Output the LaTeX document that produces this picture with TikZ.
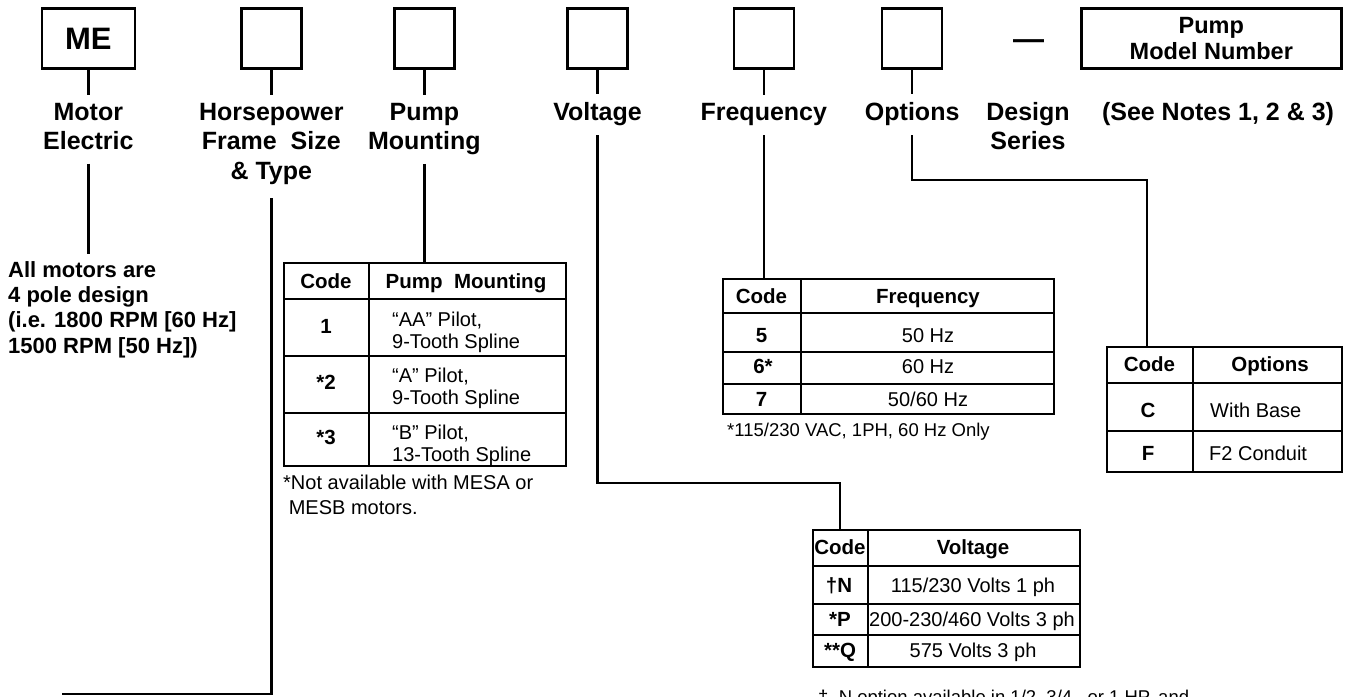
\documentclass[tikz,border=0pt]{standalone}
\usepackage{fontspec}
\setmainfont{Liberation Sans}

\tikzset{
    codebox/.style={draw, line width=2.5pt, minimum width=60pt, minimum height=60pt, inner sep=0pt, outer sep=0pt},
    lab/.style={font=\bfseries\fontsize{25}{29.5}\selectfont, align=center, inner sep=0pt, outer sep=0pt, anchor=base},
    conn/.style={line width=2.5pt},
    tabframe/.style={draw, line width=2.2pt, inner sep=0pt, outer sep=0pt, anchor=north west},
    tabline/.style={line width=2.2pt},
    hd/.style={font=\bfseries\fontsize{20.5}{22}\selectfont, inner sep=0pt, anchor=base},
    celltxt/.style={font=\fontsize{20}{22}\selectfont, inner sep=0pt, anchor=base},
    celltwo/.style={font=\fontsize{20}{22}\selectfont, inner sep=0pt, anchor=north west, align=left},
    fnote/.style={font=\fontsize{18.5}{24}\selectfont, inner sep=0pt, align=left},
}

\begin{document}
\begin{tikzpicture}[x=1pt, y=-1pt]
    \useasboundingbox (0,0) rectangle (1348,696);

    % code boxes along the top
    \node[codebox, minimum width=93pt, font=\bfseries\fontsize{31}{31}\selectfont] (me) at (88.3,38.7) {ME};
    \node[codebox] (hpbox) at (271.3,38.7) {};
    \node[codebox] (pmbox) at (424.3,38.7) {};
    \node[codebox] (voltbox) at (597.5,38.7) {};
    \node[codebox] (fqbox) at (763.8,38.7) {};
    \node[codebox] (optbox) at (912.2,38.7) {};
    \node[font=\bfseries\fontsize{31}{31}\selectfont, inner sep=0pt] (dash) at (1028.5,44.5) {—};
    \node[codebox, minimum width=260pt, align=center, font=\bfseries\fontsize{23.5}{26}\selectfont] (modelbox) at (1211.3,38.7) {Pump\\Model Number};

    % labels (anchored at the baseline of their last line)
    \node[lab] (motor) at (88.3,149.5) {Motor\\Electric};
    \node[lab] (hp) at (271.3,179) {Horsepower\\Frame\ \ Size\\\&\ Type};
    \node[lab] (pm) at (424.3,149.5) {Pump\\Mounting};
    \node[lab] (volt) at (597.5,120) {Voltage};
    \node[lab] (freq) at (763.8,120) {Frequency};
    \node[lab] (opt) at (912.2,120) {Options};
    \node[lab] (design) at (1028,149.5) {Design\\Series};
    \node[lab] (notes) at (1218,120) {(See Notes 1, 2 \& 3)};

    \draw[conn, shorten >=8pt] (me.south) -- (motor.north);
    \draw[conn, shorten >=8pt] (hpbox.south) -- (hp.north);
    \draw[conn, shorten >=8pt] (pmbox.south) -- (pm.north);
    \draw[conn, shorten >=8pt] (voltbox.south) -- (volt.north);
    \draw[conn, shorten >=8pt] (fqbox.south) -- (freq.north);
    \draw[conn, shorten >=8pt] (optbox.south) -- (opt.north);

    % motor note
    \node[font=\bfseries\fontsize{22}{25.3}\selectfont, align=left, inner sep=0pt, anchor=north west] (motnote) at (8,261)
        {All motors are\\4 pole design\\(i.e. 1800 RPM [60 Hz]\\1500 RPM [50 Hz])};
    \draw[conn, shorten <=14pt, shorten >=7pt] (motor.south) -- (motor.south |- motnote.north);

    % horsepower lead
    \coordinate (hpend) at (62,694);
    \draw[conn, shorten <=14pt] (hp.south) |- (hpend);

    % pump mounting table
    \node[tabframe, minimum width=282pt, minimum height=203pt] (pmtab) at (284,263) {};
    \draw[tabline] (pmtab.north west) ++(85,0) -- ++(0,203);
    \draw[tabline] (pmtab.north west) ++(0,36) -- ++(282,0);
    \draw[tabline] (pmtab.north west) ++(0,93) -- ++(282,0);
    \draw[tabline] (pmtab.north west) ++(0,150) -- ++(282,0);
    \node[hd] (pmc) at (326,288) {Code};
    \node[hd] (pmh) at (466,288) {Pump\ \ Mounting};
    \node[hd] (pm1) at (326,333) {1};
    \node[hd] (pm2) at (326,389) {*2};
    \node[hd] (pm3) at (326,444) {*3};
    \node[celltwo] (pm1t) at (392,312) {“AA” Pilot,\\9-Tooth Spline};
    \node[celltwo] (pm2t) at (392,368) {“A” Pilot,\\9-Tooth Spline};
    \node[celltwo] (pm3t) at (392,425) {“B” Pilot,\\13-Tooth Spline};
    \node[fnote, font=\fontsize{20}{24.5}\selectfont, anchor=north west] (pmnote) at (283,475)
        {*Not available with MESA or\\\hspace*{0.28em}MESB motors.};
    \draw[conn, shorten <=9pt] (pm.south) -- (pm.south |- pmtab.north);

    % frequency table
    \node[tabframe, minimum width=331pt, minimum height=135pt] (ftab) at (723,279) {};
    \draw[tabline] (ftab.north west) ++(78,0) -- ++(0,135);
    \draw[tabline] (ftab.north west) ++(0,34) -- ++(331,0);
    \draw[tabline] (ftab.north west) ++(0,73) -- ++(331,0);
    \draw[tabline] (ftab.north west) ++(0,105) -- ++(331,0);
    \node[hd] (fqc) at (761.5,303) {Code};
    \node[hd] (fqh) at (928,303) {Frequency};
    \node[hd] (fq5) at (761.5,342) {5};
    \node[hd] (fq6) at (763,373) {6*};
    \node[hd] (fq7) at (761.5,406) {7};
    \node[celltxt] (fq5t) at (928,342) {50\ Hz};
    \node[celltxt] (fq6t) at (928,373) {60\ Hz};
    \node[celltxt] (fq7t) at (928,406) {50/60\ Hz};
    \node[fnote, anchor=base west] (fqnote) at (727,436.5) {*115/230 VAC, 1PH, 60 Hz Only};
    \draw[conn, shorten <=10pt] (freq.south) -- (freq.south |- ftab.north);

    % options table
    \node[tabframe, minimum width=235pt, minimum height=125pt] (otab) at (1107,347) {};
    \draw[tabline] (otab.north west) ++(86,0) -- ++(0,125);
    \draw[tabline] (otab.north west) ++(0,36) -- ++(235,0);
    \draw[tabline] (otab.north west) ++(0,84) -- ++(235,0);
    \node[hd] (opc) at (1149.5,371) {Code};
    \node[hd] (oph) at (1270,371) {Options};
    \node[hd] (opC) at (1148,417) {C};
    \node[hd] (opF) at (1148,460) {F};
    \node[celltxt, anchor=base west] (opCt) at (1210,417) {With Base};
    \node[celltxt, anchor=base west] (opFt) at (1209,460) {F2 Conduit};
    \coordinate (obend) at (1147,180);
    \draw[conn, shorten <=10pt] (opt.south) |- (obend) -- (obend |- otab.north);

    % voltage table
    \node[tabframe, minimum width=267pt, minimum height=137pt] (vtab) at (813,530) {};
    \draw[tabline] (vtab.north west) ++(55,0) -- ++(0,137);
    \draw[tabline] (vtab.north west) ++(0,36) -- ++(267,0);
    \draw[tabline] (vtab.north west) ++(0,74) -- ++(267,0);
    \draw[tabline] (vtab.north west) ++(0,105) -- ++(267,0);
    \node[hd] (vc) at (840,554) {Code};
    \node[hd] (vh) at (973,554) {Voltage};
    \node[hd] (vN) at (839,592) {†N};
    \node[hd] (vP) at (840,626) {*P};
    \node[hd] (vQ) at (840,657) {**Q};
    \node[celltxt] (vNt) at (973,592) {115/230 Volts 1 ph};
    \node[celltxt] (vPt) at (972,626) {200-230/460 Volts 3 ph};
    \node[celltxt] (vQt) at (973,657) {575 Volts 3 ph};
    \node[fnote, anchor=base west] (vnote) at (818,703) {†\ \ N option available in 1/2, 3/4,\ \ or 1 HP, and};
    \coordinate (vbend) at (840,483);
    \draw[conn, shorten <=10pt] (volt.south) |- (vbend) -- (vbend |- vtab.north);
\end{tikzpicture}
\end{document}
